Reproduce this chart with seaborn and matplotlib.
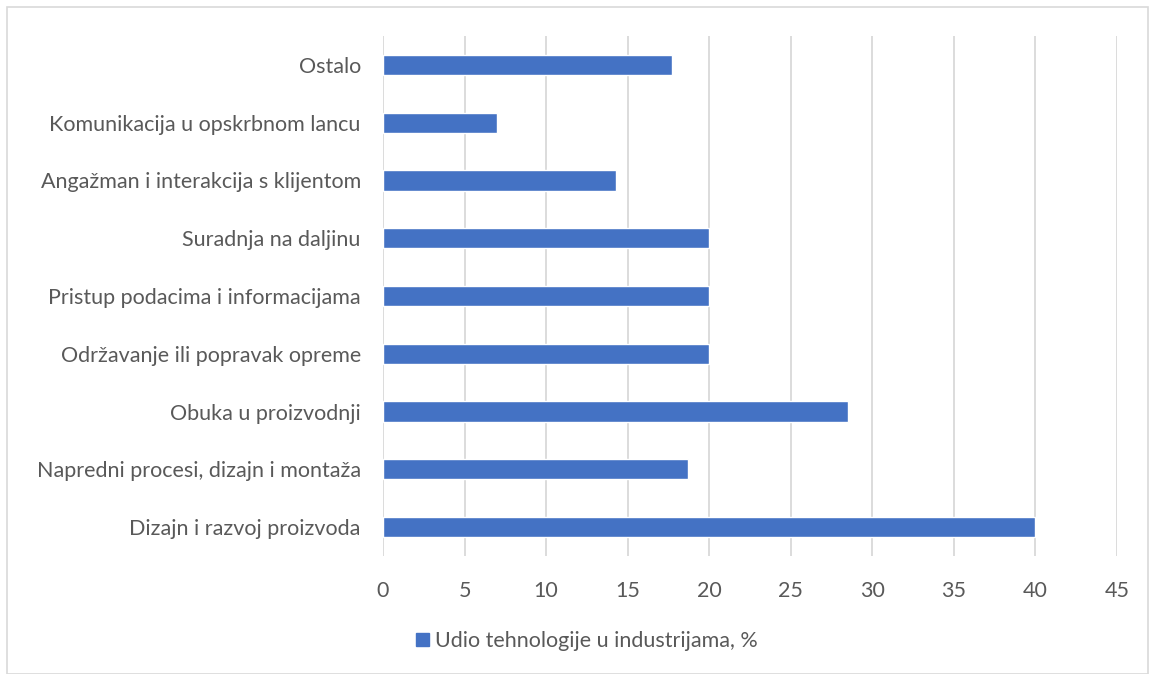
import matplotlib
matplotlib.use("Agg")
import matplotlib.pyplot as plt
import matplotlib.patches as mpatches
import seaborn as sns
import pandas as pd

categories = [
    "Ostalo",
    "Komunikacija u opskrbnom lancu",
    "Angažman i interakcija s klijentom",
    "Suradnja na daljinu",
    "Pristup podacima i informacijama",
    "Održavanje ili popravak opreme",
    "Obuka u proizvodnji",
    "Napredni procesi, dizajn i montaža",
    "Dizajn i razvoj proizvoda",
]
values = [17.7, 7.0, 14.3, 20.0, 20.0, 20.0, 28.5, 18.7, 40.0]
x_ticks = [0, 5, 10, 15, 20, 25, 30, 35, 40, 45]
series_name = "Udio tehnologije u industrijama, %"

BAR = "#4472C4"
TXT = "#595959"
GRID = "#D9D9D9"
FS = 15.5

sns.set_style("white")
plt.rcParams["font.family"] = ["Lato", "DejaVu Sans"]

df = pd.DataFrame({"cat": categories, "val": values})

fig = plt.figure(figsize=(11.51, 6.74), dpi=100)
W, H = 1151, 674
ax = fig.add_axes([383 / W, 1 - 556 / H, (1117 - 383) / W, (556 - 36) / H])

sns.barplot(data=df, x="val", y="cat", orient="h", color=BAR, width=0.35,
            saturation=1, ax=ax, zorder=3)

ax.set_xlim(0, 45)
ax.set_xticks(x_ticks)
ax.set_xticklabels([str(t) for t in x_ticks], color=TXT, fontsize=FS)
ax.tick_params(axis="y", labelsize=FS, labelcolor=TXT, length=0, pad=16)
ax.tick_params(axis="x", length=0, pad=18)
ax.set_xlabel("")
ax.set_ylabel("")
ax.grid(axis="x", color=GRID, linewidth=1.3, zorder=0)
for s in ax.spines.values():
    s.set_visible(False)

# outer chart border
fig.patches.append(mpatches.Rectangle((7 / W, 0), (1148 - 7) / W, 1 - 7 / H,
                                      transform=fig.transFigure, fill=False,
                                      edgecolor="#D9D9D9", linewidth=1.2))

handle = mpatches.Patch(color=BAR, label=series_name)
fig.legend(handles=[handle], loc="center", bbox_to_anchor=(587 / W, 1 - 641 / H),
           frameon=False, fontsize=FS, labelcolor=TXT, handlelength=0.6,
           handleheight=0.6, handletextpad=0.3)

fig.savefig("out.png", dpi=100)
